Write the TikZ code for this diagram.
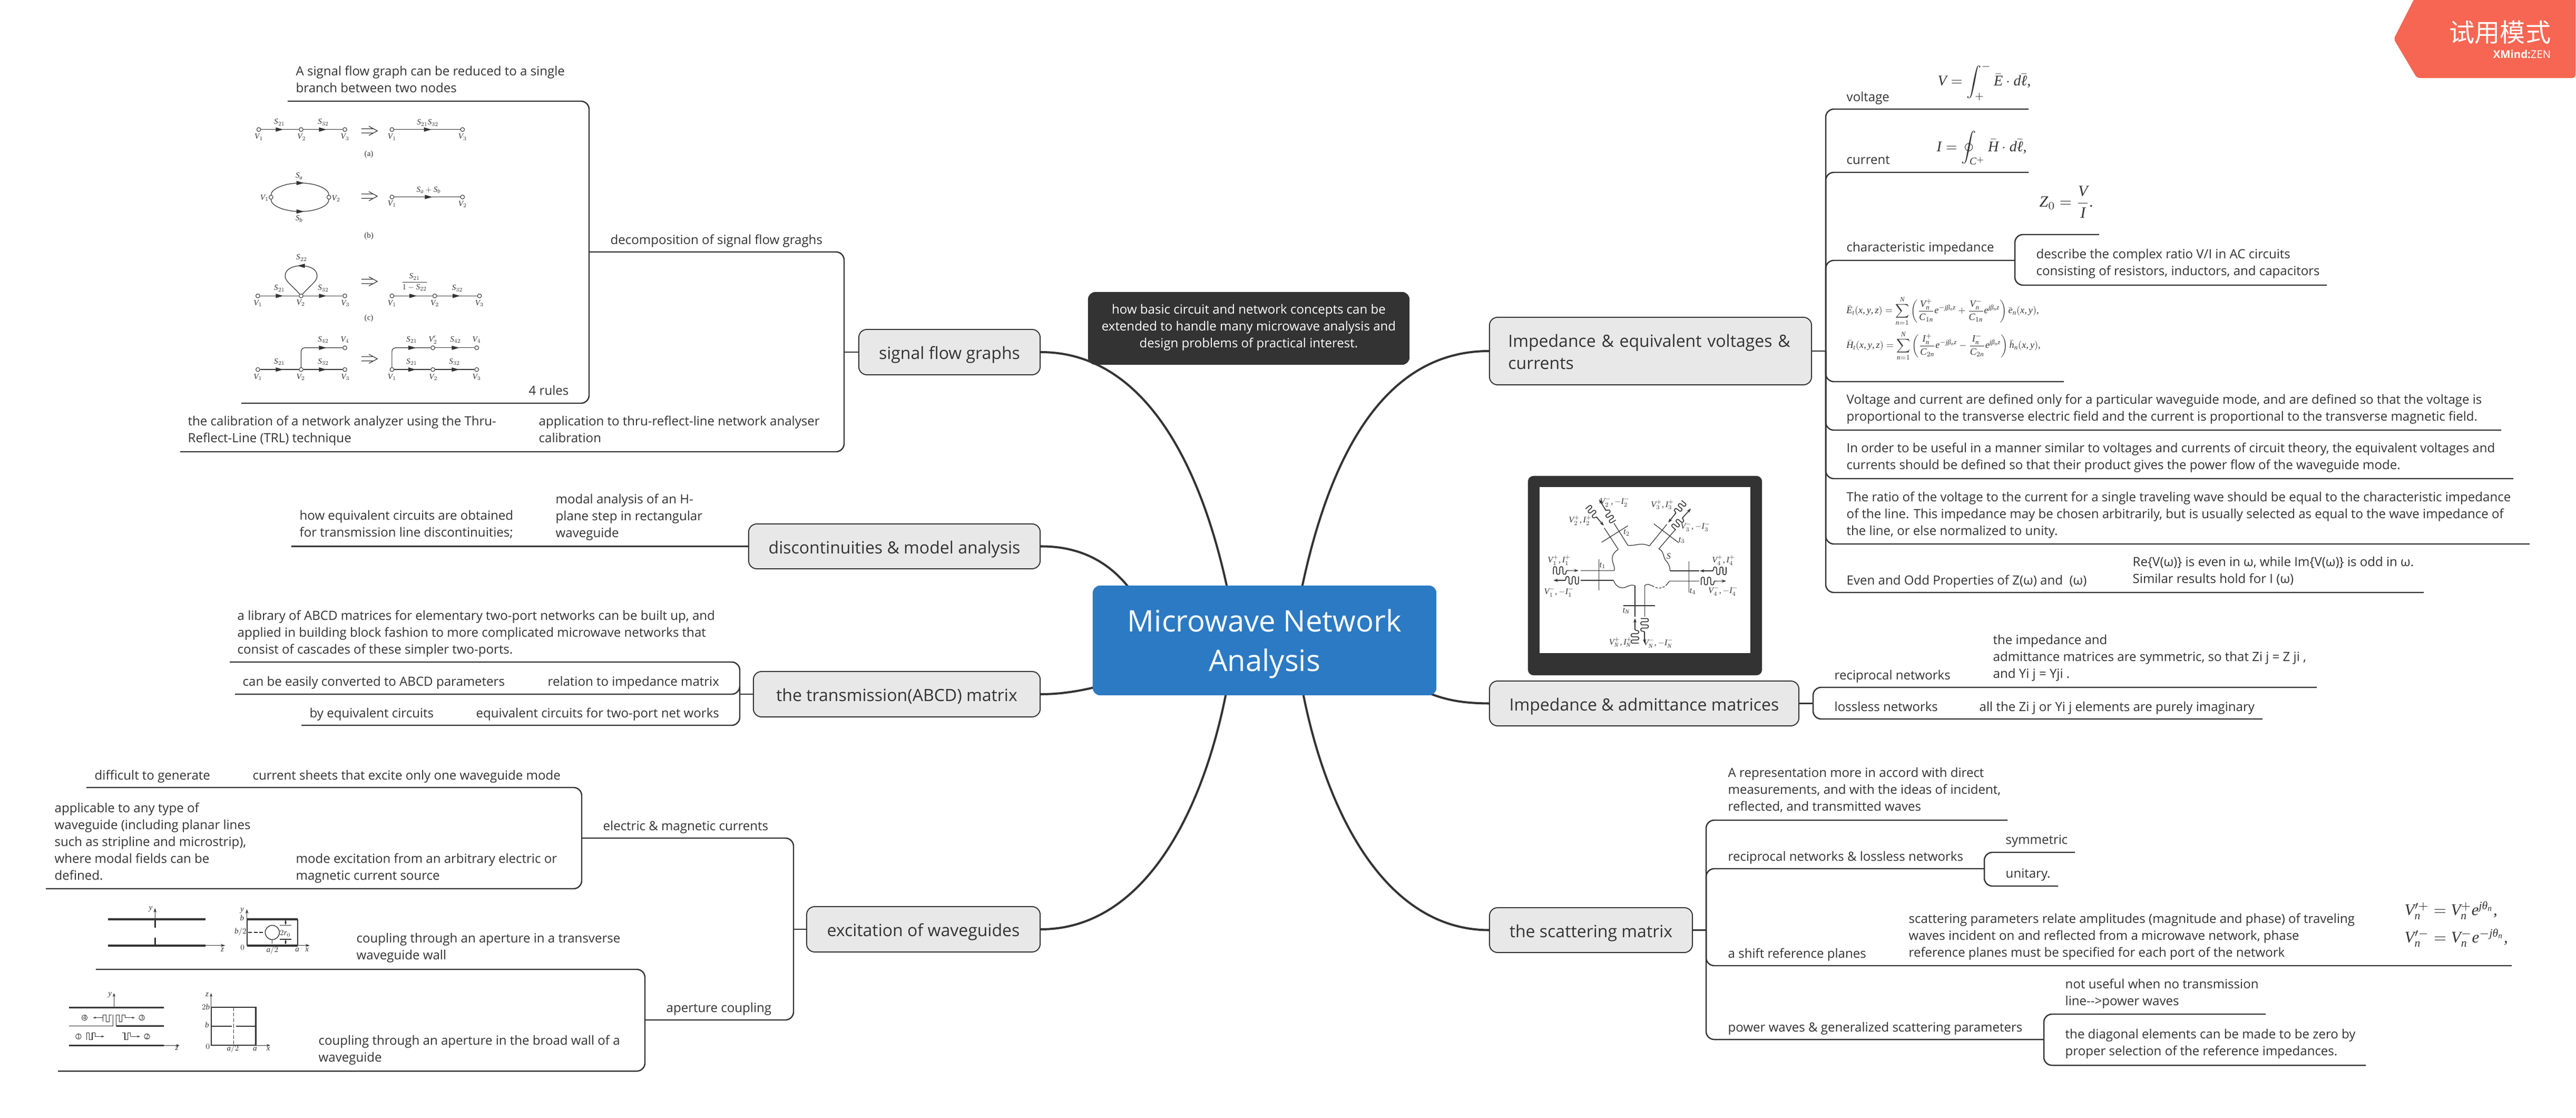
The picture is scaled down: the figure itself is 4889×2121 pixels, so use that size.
\RequirePackage{fix-cm}
\documentclass[tikz,border=0pt]{standalone}
\usepackage{amsmath}
\usepackage{fontspec}
\setmainfont{Open Sans}
\newfontfamily\cjkfont{Noto Sans CJK SC}
\newfontfamily\msf{Liberation Serif}[NFSSFamily=lsr]
\DeclareSymbolFont{letters}{TU}{lsr}{m}{it}
\Umathchardef\beta="0 \symletters "03B2
\Umathchardef\theta="0 \symletters "03B8
\Umathchardef\ell="0 \symletters "2113
\Umathcode`,="6 \symletters `,
\Umathcode`.="0 \symletters `.
\Umathcode`/="0 \symletters `/
\usetikzlibrary{arrows.meta}
\pgfdeclarelayer{bg}
\pgfsetlayers{bg,main}
\definecolor{ink}{HTML}{333333}
\definecolor{topicfill}{HTML}{E8E8E8}
\definecolor{rootblue}{HTML}{2C7AC3}
\definecolor{wmred}{HTML}{F66652}
\newcount\labn
\newcommand\mystrut{\vrule width 0pt height .7\baselineskip depth .3\baselineskip\relax}
\newcommand\downstrut[1]{\vrule width 0pt height \dimexpr.7\baselineskip+#1\relax depth .3\baselineskip\relax}
% connector branch: named end point #1, start node/coordinate #2, end position #3
\newcommand\br[3]{\coordinate (#1) at #3; \draw[branch] (#2) |- (#1);}
\newcommand\lab[3]{\global\advance\labn by 1 \node[flab] (lab\the\labn) at (#1,#2) {$#3$};}
\newcommand\vtx[3]{\node[vtx] (#1) at (#2,#3) {};}
\newcommand\ah[2]{\fill[ink] (#1-8,#2-8) -- (#1+8,#2) -- (#1-8,#2+8) -- cycle;}
\newcommand\ahl[2]{\fill[ink] (#1+8,#2-8) -- (#1-8,#2) -- (#1+8,#2+8) -- cycle;}
\newcommand\impl[1]{\draw[figl] (432,#1-8) -- (456,#1-8) (432,#1+8) -- (456,#1+8) (448,#1-17) -- (466,#1) -- (448,#1+17);}
\newcommand\wig[6]{\begin{scope}[shift={(#1,#2)},rotate=#3]
\draw[wigl,rounded corners=.8pt] (0,#5) -- (0,-#5) -- (#4,-#5) -- (#4,#5) -- (2*#4,#5) -- (2*#4,-#5) -- (3*#4,-#5) -- (3*#4,#5) -- (4*#4,#5) -- (4*#4,0) -- (4*#4+3,0);
\draw[wigl,-{Stealth[length=2.4pt,width=1.7pt]}] (4*#4+3,0) -- (#6,0);
\end{scope}}
\tikzset{
  struts/.style={execute at begin node={\mystrut},execute at end node={\mystrut}},
  leaf/.style={inner sep=0pt,anchor=west,align=left,text=ink,font=\fontsize{6.84}{9.1}\selectfont,struts,yshift=-.75pt},
  topicbox/.style={draw=ink,fill=topicfill,line width=.55pt,rounded corners=4.4pt,inner sep=0pt,text=ink,font=\fontsize{9.1}{11.9}\selectfont,align=left,execute at begin node={\downstrut{3pt}},execute at end node={\mystrut}},
  branch/.style={draw=ink,line width=.7pt,rounded corners=4.4pt},
  curve/.style={draw=ink,line width=1.15pt},
  figl/.style={draw=ink,line width=.35pt},
  figt/.style={draw=ink,line width=1pt},
  wigl/.style={draw=ink,line width=.45pt},
  flab/.style={inner sep=0pt,text=ink,font=\fontsize{10}{12}\selectfont,scale=.43,transform shape},
  vtx/.style={circle,draw=ink,fill=white,line width=.3pt,inner sep=0pt,minimum size=.075cm},
  fml/.style={inner sep=0pt,anchor=west,text=ink,font=\fontsize{10}{12}\selectfont,transform shape},
  num/.style={circle,draw=ink,line width=.25pt,inner sep=0pt,minimum size=.085cm,text=ink,font=\msf\fontsize{3.6}{4}\selectfont},
}
\begin{document}
\begin{tikzpicture}[x=.01cm,y=-.01cm]
\useasboundingbox (0,0) rectangle (4889,2121);
\begin{pgfonlayer}{bg}
\fill[white] (0,0) rectangle (4889,2121);
\end{pgfonlayer}

% ---------- central, callout, topics
\node[fill=rootblue,rounded corners=4pt,inner sep=0pt,minimum width=6.52cm,minimum height=2.08cm] (root) at (2400,1215) {};
\node[inner sep=0pt,text=white,align=center,font=\fontsize{16}{21.2}\selectfont,struts] (rootText) at (2400,1226) {Microwave Network\\Analysis};
\node[fill=ink,rounded corners=4pt,inner sep=0pt,minimum width=6.10cm,minimum height=1.38cm,text=white,align=center,font=\fontsize{6.84}{9.1}\selectfont,struts] (note) at (2370,623) {how basic circuit and network concepts can be\\extended to handle many microwave analysis and\\design problems of practical interest.};

\node[topicbox,minimum width=3.44cm,minimum height=.86cm] (sfg) at (1802,668) {signal flow graphs};
\node[topicbox,minimum width=5.53cm,minimum height=.85cm] (disc) at (1697.5,1036.5) {discontinuities \& model analysis};
\node[topicbox,minimum width=5.44cm,minimum height=.86cm] (abcd) at (1702,1317) {the transmission(ABCD) matrix};
\node[topicbox,minimum width=4.43cm,minimum height=.86cm] (exc) at (1752.5,1763) {excitation of waveguides};
\node[topicbox,minimum width=6.11cm,minimum height=1.28cm,text width=5.4cm] (imp) at (3132.5,666) {Impedance \& equivalent voltages \& currents};
\node[topicbox,minimum width=5.87cm,minimum height=.85cm] (adm) at (3120.5,1334.5) {Impedance \& admittance matrices};
\node[topicbox,minimum width=3.85cm,minimum height=.85cm] (sca) at (3019.5,1764.5) {the scattering matrix};

\begin{pgfonlayer}{bg}
\coordinate (rTL) at (2338,1160);
\coordinate (rTR) at (2462,1160);
\coordinate (rBL) at (2335,1270);
\coordinate (rBR) at (2465,1270);
\coordinate (rDi) at (2160,1140);
\coordinate (rAb) at (2100,1298);
\coordinate (rAd) at (2700,1310);
\draw[curve] (sfg.east) .. controls (2180,668) and (2290,900) .. (rTL);
\draw[curve] (imp.west) .. controls (2610,666) and (2510,900) .. (rTR);
\draw[curve] (disc.east) .. controls (2060,1036) and (2120,1075) .. (rDi);
\draw[curve] (abcd.east) .. controls (2010,1317) and (2050,1312) .. (rAb);
\draw[curve] (adm.west) .. controls (2780,1334) and (2745,1330) .. (rAd);
\draw[curve] (exc.east) .. controls (2180,1763) and (2295,1520) .. (rBL);
\draw[curve] (sca.west) .. controls (2620,1764) and (2505,1520) .. (rBR);
\end{pgfonlayer}

% ---------- signal flow graphs branch
\coordinate (j1) at (1602,668);
\draw[branch] (sfg.west) -- (j1);
\br{d1}{j1}{(1118,478)}
\br{d2}{j1}{(342,857)}
\br{d1a}{d1}{(546,192)}
\br{d1b}{d1}{(458,765)}
\node[leaf] (t1) at (1158,454) {decomposition of signal flow graghs};
\node[leaf] (t2) at (561,152) {A signal flow graph can be reduced to a single\\branch between two nodes};
\node[leaf] (t3) at (1003,740) {4 rules};
\node[leaf] (t4) at (356,816) {the calibration of a network analyzer using the Thru-\\Reflect-Line (TRL) technique};
\node[leaf] (t5) at (1022,816) {application to thru-reflect-line network analyser\\calibration};

% signal flow figure
\begin{scope}[shift={(300,80)},x=.00893cm,y=-.005102cm]
\vtx{a1}{214}{325}\vtx{a2}{304}{325}\vtx{a3}{397}{325}\vtx{a4}{497}{325}\vtx{a5}{647}{325}
\draw[figl] (a1) -- (a2); \draw[figl] (a2) -- (a3); \draw[figl] (a4) -- (a5);
\ah{258}{325}\ah{350}{325}\ah{573}{325}
\lab{258}{298}{S_{21}}\lab{351}{298}{S_{32}}\lab{573}{300}{S_{21}S_{32}}
\lab{214}{353}{V_1}\lab{305}{353}{V_2}\lab{397}{353}{V_3}\lab{497}{353}{V_1}\lab{647}{353}{V_3}
\impl{330}
\global\advance\labn by 1 \node[flab] (lab\the\labn) at (448,417) {\msf(a)};
% b
\vtx{b1}{240}{577}\vtx{b2}{363}{577}\vtx{b3}{497}{576}\vtx{b4}{647}{576}
\draw[figl] (b1) .. controls (240,545) and (270,524) .. (302,524) .. controls (335,524) and (363,545) .. (b2);
\draw[figl] (b1) .. controls (240,610) and (270,630) .. (302,630) .. controls (335,630) and (363,610) .. (b2);
\draw[figl] (b3) -- (b4);
\ah{302}{524}\ah{302}{630}\ah{575}{576}
\lab{300}{498}{S_a}\lab{300}{657}{S_b}\lab{226}{579}{V_1}\lab{378}{581}{V_2}
\lab{575}{550}{S_a+S_b}\lab{497}{601}{V_1}\lab{647}{603}{V_2}
\impl{573}
\global\advance\labn by 1 \node[flab] (lab\the\labn) at (448,722) {\msf(b)};
% c
\vtx{c1}{212}{944}\vtx{c2}{304}{944}\vtx{c3}{397}{944}\vtx{c4}{497}{944}\vtx{c5}{588}{944}\vtx{c6}{683}{944}
\draw[figl] (c1) -- (c2); \draw[figl] (c2) -- (c3); \draw[figl] (c4) -- (c5); \draw[figl] (c5) -- (c6);
\draw[figl] (c2) .. controls (285,905) and (270,890) .. (270,870) .. controls (270,845) and (285,832) .. (304,832) .. controls (323,832) and (338,845) .. (338,870) .. controls (338,890) and (323,905) .. (c2);
\ah{258}{944}\ah{350}{944}\ah{542}{944}\ah{634}{944}\ahl{304}{832}
\lab{305}{802}{S_{22}}\lab{258}{916}{S_{21}}\lab{351}{916}{S_{32}}
\lab{212}{972}{V_1}\lab{303}{970}{V_2}\lab{398}{972}{V_3}
\lab{545}{893}{\dfrac{S_{21}}{1-S_{22}}}\lab{636}{916}{S_{32}}
\lab{497}{972}{V_1}\lab{588}{972}{V_2}\lab{683}{972}{V_3}
\impl{890}
\global\advance\labn by 1 \node[flab] (lab\the\labn) at (448,1028) {\msf(c)};
% d
\vtx{e1}{212}{1218}\vtx{e2}{304}{1218}\vtx{e3}{397}{1218}\vtx{e4}{397}{1137}
\vtx{f1}{497}{1218}\vtx{f2}{584}{1218}\vtx{f3}{677}{1218}\vtx{f4}{584}{1137}\vtx{f5}{677}{1137}
\draw[figl] (e1) -- (e2); \draw[figl] (e2) -- (e3);
\draw[figl,rounded corners=2pt] (e2) |- (e4);
\draw[figl] (f1) -- (f2); \draw[figl] (f2) -- (f3); \draw[figl] (f4) -- (f5);
\draw[figl,rounded corners=2pt] (f1) |- (f4);
\ah{258}{1218}\ah{350}{1218}\ah{350}{1137}\ah{540}{1218}\ah{540}{1137}\ah{632}{1218}\ah{632}{1137}
\lab{351}{1107}{S_{42}}\lab{397}{1107}{V_4}\lab{258}{1190}{S_{21}}\lab{351}{1190}{S_{32}}
\lab{212}{1246}{V_1}\lab{303}{1246}{V_2}\lab{398}{1246}{V_3}
\lab{539}{1107}{S_{21}}\lab{584}{1107}{V_2'}\lab{632}{1107}{S_{42}}\lab{677}{1107}{V_4}
\lab{539}{1190}{S_{21}}\lab{630}{1190}{S_{32}}
\lab{497}{1246}{V_1}\lab{585}{1246}{V_2}\lab{677}{1246}{V_3}
\impl{1178}
\end{scope}

% ---------- discontinuities
\coordinate (dend) at (553,1036.5);
\draw[branch] (disc.west) -- (dend);
\node[leaf] (t6) at (568,996) {how equivalent circuits are obtained\\for transmission line discontinuities;};
\node[leaf] (t7) at (1054,980) {modal analysis of an H-\\plane step in rectangular\\waveguide};

% ---------- ABCD
\coordinate (j2) at (1404,1317);
\draw[branch] (abcd.west) -- (j2);
\br{m1}{j2}{(436,1256)}
\br{m2}{j2}{(446,1317)}
\br{m3}{j2}{(572,1376)}
\node[leaf] (t8) at (450,1201) {a library of ABCD matrices for elementary two-port networks can be built up, and\\applied in building block fashion to more complicated microwave networks that\\consist of cascades of these simpler two-ports.};
\node[leaf] (t9) at (460,1292) {can be easily converted to ABCD parameters};
\node[leaf] (t10) at (1039,1292) {relation to impedance matrix};
\node[leaf] (t11) at (587,1352) {by equivalent circuits};
\node[leaf] (t12) at (903,1352) {equivalent circuits for two-port net works};

% ---------- excitation
\coordinate (j3) at (1506,1763);
\draw[branch] (exc.west) -- (j3);
\br{x1}{j3}{(1104,1590)}
\br{x2}{j3}{(1224,1935)}
\br{x1a}{x1}{(164,1494)}
\br{x1b}{x1}{(87,1686)}
\br{x2a}{x2}{(182,1839)}
\br{x2b}{x2}{(110,2032)}
\node[leaf] (t13) at (1144,1566) {electric \& magnetic currents};
\node[leaf] (t14) at (1264,1911) {aperture coupling};
\node[leaf] (t15) at (179,1470) {difficult to generate};
\node[leaf] (t16) at (479,1470) {current sheets that excite only one waveguide mode};
\node[leaf] (t17) at (103,1598) {applicable to any type of\\waveguide (including planar lines\\such as stripline and microstrip),\\where modal fields can be\\defined.};
\node[leaf] (t18) at (561,1646) {mode excitation from an arbitrary electric or\\magnetic current source};
\node[leaf] (t19) at (676,1798) {coupling through an aperture in a transverse\\waveguide wall};
\node[leaf] (t20) at (604,1991) {coupling through an aperture in the broad wall of a\\waveguide};

% waveguide figures
\begin{scope}[shift={(100,1420)},x=.00765cm,y=-.004337cm]
\draw[figt] (137,747) -- (379,747) (137,862) -- (379,862) (254,747) -- (254,785) (254,828) -- (254,862);
\draw[figl,-{Stealth[length=2.4pt,width=1.6pt]}] (254,747) -- (254,698);
\draw[figl,-{Stealth[length=2.4pt,width=1.6pt]}] (379,862) -- (428,862);
\lab{243}{702}{y}\lab{421}{882}{z}
\draw[figt] (482,747) -- (608,747) (482,862) -- (608,862);
\draw[line width=.6pt,draw=ink] (482,747) -- (482,862) (608,747) -- (608,862);
\draw[figl,-{Stealth[length=2.4pt,width=1.6pt]}] (482,747) -- (482,703);
\draw[figl,-{Stealth[length=2.4pt,width=1.6pt]}] (608,862) -- (638,862);
\node[circle,draw=ink,line width=.4pt,inner sep=0pt,minimum size=.27cm] (hole) at (545,805) {};
\draw[figl,dashed,dash pattern=on 2pt off 1pt] (485,805) -- (hole.west);
\draw[figl,dashed,dash pattern=on 2pt off 1pt] (hole.south) -- (545,866);
\draw[figl] (563,773) -- (592,773) (563,835) -- (592,835);
\draw[figl,-{Stealth[length=1.8pt,width=1.2pt]}] (578,752) -- (578,773);
\draw[figl,-{Stealth[length=1.8pt,width=1.2pt]}] (578,856) -- (578,835);
\lab{577}{810}{2r_0}\lab{470}{710}{y}\lab{470}{742}{b}\lab{466}{803}{b/2}\lab{471}{870}{0}\lab{545}{882}{a/2}\lab{607}{882}{a}\lab{631}{882}{x}
% broad wall
\draw[figt,line width=.8pt] (40,1133) -- (276,1133) (158,1215) -- (276,1215) (40,1299) -- (276,1299);
\draw[figl] (40,1215) -- (150,1215) (150,1215) -- (150,1165) (158,1215) -- (158,1165);
\draw[figl,-{Stealth[length=2pt,width=1.4pt]}] (152,1133) -- (152,1070);
\draw[figl,-{Stealth[length=2pt,width=1.4pt]}] (276,1299) -- (315,1299);
\lab{142}{1078}{y}\lab{308}{1313}{z}
\node[num] (n4) at (79,1178) {4};
\node[num] (n3) at (221,1178) {3};
\node[num] (n1) at (64,1260) {1};
\node[num] (n2) at (234,1260) {2};
\draw[figl] (125,1195) -- (125,1165) -- (133,1165) -- (133,1195) -- (141,1195) -- (141,1165) -- (147,1165);
\draw[figl,-{Stealth[length=1.6pt,width=1.1pt]}] (125,1178) -- (100,1178);
\draw[figl] (157,1165) -- (165,1165) -- (165,1195) -- (172,1195) -- (172,1165) -- (180,1165) -- (180,1178);
\draw[figl,-{Stealth[length=1.6pt,width=1.1pt]}] (180,1178) -- (204,1178);
\draw[figl] (84,1275) -- (84,1245) -- (91,1245) -- (91,1275) -- (98,1275) -- (98,1245) -- (105,1245) -- (105,1260);
\draw[figl,-{Stealth[length=1.6pt,width=1.1pt]}] (105,1260) -- (128,1260);
\draw[figl] (172,1245) -- (179,1245) -- (179,1275) -- (186,1275) -- (186,1245) -- (193,1245) -- (193,1260);
\draw[figl,-{Stealth[length=1.6pt,width=1.1pt]}] (193,1260) -- (217,1260);
\draw[line width=.6pt,draw=ink] (393,1132) rectangle (504,1299);
\draw[line width=.6pt,draw=ink] (393,1215) -- (444,1215) (455,1215) -- (504,1215);
\draw[figl,dashed,dash pattern=on 2pt off 1pt] (449,1132) -- (449,1299);
\draw[figl,-{Stealth[length=2pt,width=1.4pt]}] (393,1132) -- (393,1070);
\draw[figl,-{Stealth[length=2pt,width=1.4pt]}] (504,1299) -- (540,1299);
\lab{383}{1078}{z}\lab{380}{1130}{2b}\lab{383}{1210}{b}\lab{385}{1304}{0}\lab{447}{1314}{a/2}\lab{502}{1314}{a}\lab{535}{1314}{x}
\end{scope}

% ---------- impedance & voltages
\coordinate (j4) at (3465,666);
\draw[branch] (imp.east) -- (j4);
\br{i1}{j4}{(3850,207)}
\br{i2}{j4}{(3850,327)}
\br{i3}{j4}{(3824,494)}
\br{i4}{j4}{(3917,724)}
\br{i5}{j4}{(4747,816)}
\br{i6}{j4}{(4770,908)}
\br{i7}{j4}{(4801,1032)}
\br{i8}{j4}{(4600,1124)}
\br{i3a}{i3}{(3984,445)}
\br{i3b}{i3}{(4416,541)}
\node[leaf] (t21) at (3504,183) {voltage};
\node[leaf] (t22) at (3504,302) {current};
\node[leaf] (t23) at (3504,468) {characteristic impedance};
\node[leaf] (t24) at (3864,500) {describe the complex ratio V/I in AC circuits\\consisting of resistors, inductors, and capacitors};
\node[leaf] (t25) at (3504,775.5) {Voltage and current are defined only for a particular waveguide mode, and are defined so that the voltage is\\proportional to the transverse electric field and the current is proportional to the transverse magnetic field.};
\node[leaf] (t26) at (3504,867.5) {In order to be useful in a manner similar to voltages and currents of circuit theory, the equivalent voltages and\\currents should be defined so that their product gives the power flow of the waveguide mode.};
\node[leaf] (t27) at (3504,976) {The ratio of the voltage to the current for a single traveling wave should be equal to the characteristic impedance\\of the line. This impedance may be chosen arbitrarily, but is usually selected as equal to the wave impedance of\\the line, or else normalized to unity.};
\node[leaf] (t28) at (3504,1100) {Even and Odd Properties of Z(ω) and~ (ω)};
\node[leaf] (t29) at (4047,1084) {Re\{V(ω)\} is even in ω, while Im\{V(ω)\} is odd in ω.\\Similar results hold for I (ω)};
\node[fml,scale=.8] (f1) at (3677,155) {$\displaystyle V=\int_{+}^{-}\bar E\cdot d\bar\ell,$};
\node[fml,scale=.8] (f2) at (3675,281) {$\displaystyle I=\oint_{C^{+}}\bar H\cdot d\bar\ell,$};
\node[fml,scale=.85] (f3) at (3870,383) {$\displaystyle Z_0=\frac{V}{I}.$};
\node[fml,scale=.52] (f4) at (3504,590) {$\displaystyle \bar E_t(x,y,z)=\sum_{n=1}^{N}\left(\frac{V_n^{+}}{C_{1n}}e^{-j\beta_n z}+\frac{V_n^{-}}{C_{1n}}e^{j\beta_n z}\right)\bar e_n(x,y),$};
\node[fml,scale=.52] (f5) at (3504,656) {$\displaystyle \bar H_t(x,y,z)=\sum_{n=1}^{N}\left(\frac{I_n^{+}}{C_{2n}}e^{-j\beta_n z}-\frac{I_n^{-}}{C_{2n}}e^{j\beta_n z}\right)\bar h_n(x,y),$};

% ---------- image frame
\node[fill=ink,rounded corners=3pt,inner sep=0pt,minimum width=4.44cm,minimum height=3.78cm] (frame) at (3122,1092) {};
\node[fill=white,inner sep=0pt,minimum width=4.00cm,minimum height=3.15cm] (pict) at (3122,1081.5) {};
\begin{scope}[shift={(2860,880)},x=.00333cm,y=-.00333cm]
\tikzset{flab/.style={inner sep=0pt,text=ink,font=\fontsize{10}{12}\selectfont,scale=.46,transform shape}}
\draw[figl] (420,608) -- (612,608) (420,664) -- (608,664) (524,545) -- (524,722);
\draw[figl] (930,610) -- (1098,610) (930,668) -- (1098,668) (1037,555) -- (1037,733);
\draw[figl] (730,695) -- (730,870) (785,695) -- (785,870) (665,808) -- (845,808);
\draw[figl] (555,365) -- (635,488) (610,338) -- (690,465) (540,447) -- (690,353);
\draw[figl] (912,345) -- (812,468) (960,375) -- (866,485) (838,342) -- (980,450);
\draw[figl] (690,465) .. controls (725,470) and (765,445) .. (812,468);
\draw[figl] (635,488) .. controls (590,515) and (600,550) .. (605,565) .. controls (612,585) and (615,595) .. (612,608);
\draw[figl] (608,664) .. controls (620,700) and (650,715) .. (680,702) .. controls (700,690) and (720,688) .. (730,695);
\draw[figl] (785,695) .. controls (800,680) and (815,690) .. (828,695);
\draw[figl,dash pattern=on 1.2pt off .8pt] (828,695) .. controls (860,715) and (885,710) .. (905,695);
\draw[figl] (905,695) .. controls (915,685) and (922,672) .. (930,668);
\draw[figl] (866,485) .. controls (895,495) and (890,530) .. (905,550) .. controls (925,570) and (930,590) .. (930,610);
\wig{265}{608}{0}{18}{22}{143}
\wig{408}{664}{180}{18}{22}{143}
\wig{1250}{610}{180}{18}{22}{150}
\wig{1108}{668}{0}{18}{22}{142}
\wig{730}{1022}{90}{18}{22}{142}
\wig{785}{882}{-90}{18}{22}{143}
\wig{462}{245}{-50}{18}{18}{140}
\wig{605}{330}{122}{18}{18}{150}
\wig{1010}{220}{232}{18}{18}{146}
\wig{950}{365}{48}{18}{18}{148}
\lab{298}{550}{V_1^{+},I_1^{+}}\lab{297}{730}{V_1^{-},-I_1^{-}}
\lab{418}{322}{V_2^{+},I_2^{+}}\lab{615}{216}{V_2^{-},-I_2^{-}}
\lab{887}{233}{V_3^{+},I_3^{+}}\lab{1075}{358}{V_3^{-},-I_3^{-}}
\lab{1235}{550}{V_4^{+},I_4^{+}}\lab{1233}{724}{V_4^{-},-I_4^{-}}
\lab{648}{1018}{V_N^{+},I_N^{+}}\lab{863}{1022}{V_N^{-},-I_N^{-}}
\lab{545}{580}{t_1}\lab{683}{392}{t_2}\lab{997}{436}{t_3}\lab{1060}{727}{t_4}\lab{680}{838}{t_N}\lab{922}{527}{S}
\end{scope}

% ---------- admittance
\coordinate (j5) at (3441,1334.5);
\draw[branch] (adm.east) -- (j5);
\br{a6}{j5}{(4397,1304)}
\br{a7}{j5}{(4294,1364)}
\node[leaf] (t30) at (3481,1280) {reciprocal networks};
\node[leaf] (t31) at (3782,1248) {the impedance and\\admittance matrices are symmetric, so that Zi j = Z ji ,\\and Yi j = Yji .};
\node[leaf] (t32) at (3481,1340) {lossless networks};
\node[leaf] (t33) at (3756,1340) {all the Zi j or Yi j elements are purely imaginary};

% ---------- scattering
\coordinate (j6) at (3238,1764.5);
\draw[branch] (sca.east) -- (j6);
\br{s1}{j6}{(3810,1556)}
\br{s2}{j6}{(3766,1648)}
\br{s3}{j6}{(4767,1832)}
\br{s4}{j6}{(3879,1972)}
\br{s2a}{s2}{(3938,1617)}
\br{s2b}{s2}{(3906,1681)}
\br{s4a}{s4}{(4300,1924)}
\br{s4b}{s4}{(4490,2021)}
\node[leaf] (t34) at (3279,1500) {A representation more in accord with direct\\measurements, and with the ideas of incident,\\reflected, and transmitted waves};
\node[leaf] (t35) at (3279,1624) {reciprocal networks \& lossless networks};
\node[leaf] (t36) at (3806,1592) {symmetric};
\node[leaf] (t37) at (3806,1656) {unitary.};
\node[leaf] (t38) at (3279,1808) {a shift reference planes};
\node[leaf] (t39) at (3622,1776) {scattering parameters relate amplitudes (magnitude and phase) of traveling\\waves incident on and reflected from a microwave network, phase\\reference planes must be specified for each port of the network};
\node[leaf] (t40) at (3279,1948) {power waves \& generalized scattering parameters};
\node[leaf] (t41) at (3919,1884) {not useful when no transmission\\line-{}-{}>power waves};
\node[leaf] (t42) at (3919,1980) {the diagonal elements can be made to be zero by\\proper selection of the reference impedances.};
\node[fml,scale=.88] (f6) at (4563,1727) {$V_n'^{+}=V_n^{+}e^{j\theta_n},$};
\node[fml,scale=.88] (f7) at (4563,1779) {$V_n'^{-}=V_n^{-}e^{-j\theta_n},$};

% ---------- watermark
\fill[wmred,rounded corners=1.6pt] (4587,-12) -- (4888,-12) -- (4888,148) -- (4587,148) -- (4543,74) -- cycle;
\node[inner sep=0pt,anchor=east,text=white,font=\cjkfont\fontsize{13.7}{16}\selectfont] (wm1) at (4842,61) {试用模式};
\node[inner sep=0pt,anchor=east,text=white,font=\fontsize{5.8}{7}\selectfont] (wm2) at (4842,103) {\textbf{XMind:}ZEN};
\end{tikzpicture}
\end{document}
